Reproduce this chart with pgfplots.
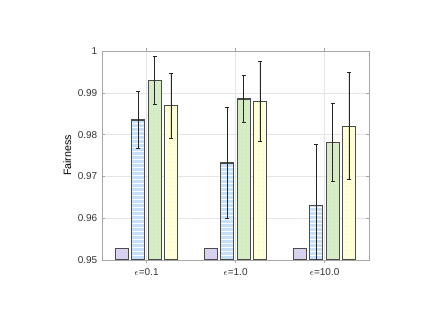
\documentclass[border=0pt]{standalone}
\usepackage{pgfplots}
\pgfplotsset{compat=1.18}
\usepackage{fontspec}
\setmainfont{Liberation Sans}
\usetikzlibrary{patterns}
\definecolor{cpurple}{RGB}{214,206,238}
\definecolor{cblue}{RGB}{196,224,250}
\definecolor{cgreen}{RGB}{212,236,196}
\definecolor{cyellow}{RGB}{255,255,200}
\definecolor{cedge}{RGB}{75,75,75}
\begin{document}
\begin{tikzpicture}
\useasboundingbox (-76.5pt,-54pt) rectangle (256.5pt,195pt);
\begin{axis}[
  at={(0,0)}, anchor=south west,
  scale only axis,
  width=200.25pt, height=156.75pt,
  xmin=0.5, xmax=3.5,
  ymin=0.95, ymax=1,
  xtick={1,2,3},
  xticklabels={$\epsilon$=0.1,$\epsilon$=1.0,$\epsilon$=10.0},
  ytick={0.95,0.96,0.97,0.98,0.99,1},
  yticklabels={0.95,0.96,0.97,0.98,0.99,1},
  ylabel={Fairness},
  ylabel style={font=\fontsize{8}{9}\selectfont, yshift=-2pt},
  tick label style={font=\fontsize{7.5}{9}\selectfont, text=black!80},
  tick align=inside,
  major tick length=2.5pt,
  grid=major,
  grid style={gray!20, line width=0.3pt},
  axis line style={gray!70, line width=0.4pt},
  tick style={gray!70},
  ybar, bar width=0.146,
  error bars/error bar style={black!85, line width=0.65pt},
  error bars/error mark options={rotate=90, mark size=1.6pt, black!85, line width=0.55pt},
]
\addplot[fill=cpurple, draw=cedge, line width=0.9pt, bar shift=-0.275,
  postaction={pattern=crosshatch dots, pattern color=white!70!cpurple}]
  coordinates {(1,0.9528) (2,0.9528) (3,0.9528)};
\addplot[fill=cblue, draw=cedge, line width=0.9pt, bar shift=-0.0917,
  postaction={pattern=horizontal lines, pattern color=white},
  error bars/.cd, y dir=both, y explicit]
  coordinates {(1,0.9835) +- (0,0.0068) (2,0.9732) +- (0,0.0133) (3,0.9630) +- (0,0.0147)};
\addplot[fill=cgreen, draw=cedge, line width=0.9pt, bar shift=0.0917,
  postaction={pattern=dots, pattern color=white!60!cgreen},
  error bars/.cd, y dir=both, y explicit]
  coordinates {(1,0.9929) +- (0,0.0057) (2,0.9885) +- (0,0.0056) (3,0.9782) +- (0,0.0093)};
\addplot[fill=cyellow, draw=cedge, line width=0.9pt, bar shift=0.275,
  postaction={pattern=grid, pattern color=white!50!cyellow},
  error bars/.cd, y dir=both, y explicit]
  coordinates {(1,0.9869) +- (0,0.0078) (2,0.9880) +- (0,0.0095) (3,0.9820) +- (0,0.0128)};
\end{axis}
\end{tikzpicture}
\end{document}
